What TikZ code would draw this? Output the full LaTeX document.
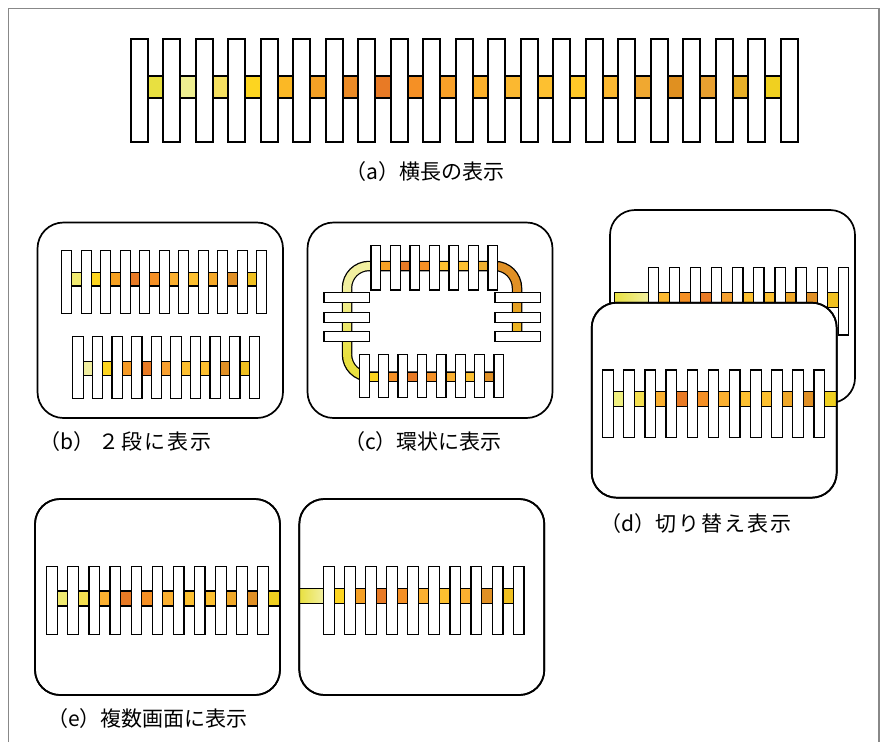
\documentclass[tikz,border=0pt]{standalone}
\usepackage{fontspec}
\newfontfamily\jp{Noto Sans CJK JP}
% bars: x0, pitch, width, n, ytop, ybot
\newcommand\mybars[6]{\foreach \i in {1,...,#4}{\draw[barst] ({#1+(\i-1)*(#2)},#5) rectangle ({#1+(\i-1)*(#2)+#3},#6);}}
% band fill: xa, xb, y1, y2, xfirst, pitch, colours
\newcommand\myband[7]{\begin{scope}\clip (#1,#3) rectangle (#2,#4);
 \foreach \cc [count=\i] in {#7}{\definecolor{tmpc}{HTML}{\cc}\fill[tmpc] ({#5+(\i-1)*(#6)},#3) rectangle ({#5+\i*(#6)+0.3},#4);}
 \end{scope}}
\begin{document}
\begin{tikzpicture}[x=1pt,y=-1pt,
  barst/.style={draw=black,fill=white,line width=1.2pt},
  framest/.style={draw=black,fill=white,line width=1.7pt,rounded corners=25pt},
  bandline/.style={draw=black,line width=1.2pt},
  tube/.style={line width=8pt},
  lab/.style={font=\jp\fontsize{21}{24}\selectfont,inner sep=0pt,anchor=west}]
\definecolor{pale}{HTML}{F2F0A0}
\definecolor{ylw}{HTML}{E8E040}
\definecolor{c1}{HTML}{FDD520}
\definecolor{c2}{HTML}{F5A025}
\definecolor{c3}{HTML}{E87A25}
\definecolor{c4}{HTML}{F59025}
\definecolor{c5}{HTML}{FBB030}
\definecolor{c6}{HTML}{FDC030}
\definecolor{c7}{HTML}{F0B030}
\definecolor{c8}{HTML}{E09025}
\definecolor{c9}{HTML}{F0C020}
\definecolor{framegray}{HTML}{888888}
\useasboundingbox (0,0) rectangle (881,742);
\fill[white] (0,0) rectangle (881,742);
% outer frame
\draw[framegray,line width=1.3pt] (8.5,742) -- (8.5,8.5) -- (879,8.5) -- (879,742);

% ---------- (a) ----------
\begin{scope}[barst/.append style={line width=2pt},bandline/.append style={line width=2pt}]
\myband{139.5}{789}{76}{98}{139.5}{32.48}{E8E040,EEEE90,F5E060,FDD520,FBB825,F4A025,EB8A25,E87A25,F59025,F8A028,FBB02A,FBB830,FDC030,FFC828,FBB830,F0A830,E09020,E8A030,E8B028,F0D020}
\draw[bandline] (139.5,76) rectangle (789,98);
\mybars{131}{32.48}{17}{21}{39}{142}
\end{scope}
\node[lab] (la) at (345,172) {（a）横長の表示};

% ---------- (b) ----------
\draw[framest,rounded corners=26pt] (37.5,222.5) rectangle (283,418);
\myband{66.7}{261.7}{272.7}{286}{66.7}{19.5}{F0EA70,FDD520,F5A020,E87A25,F59025,FBB030,FDC030,F4A828,E09025,F0C020}
\draw[bandline] (66.7,272.7) rectangle (261.7,286);
\mybars{61.7}{19.5}{10}{11}{250.7}{313.3}
\myband{78}{254}{361.7}{375.7}{78}{19.6}{F0EEA0,FDD520,F59A25,E87A25,F8A030,FDBF30,FDC030,E09025,F0C020}
\draw[bandline] (78,361.7) rectangle (254,375.7);
\mybars{72.7}{19.6}{10.5}{10}{336.7}{398.3}
\node[lab] (lb) at (39,442) {（b）\hspace{4pt}２\hspace{2pt}段\hspace{2pt}に\hspace{2pt}表\hspace{2pt}示};

% ---------- (c) ----------
\draw[framest,rounded corners=26pt] (307.5,222.5) rectangle (552.5,418);
\draw[line width=10.5pt,black] (517,340) -- (517,288) .. controls (517,275.85) and (507.15,266) .. (495,266)
  -- (369,266) .. controls (356.85,266) and (347,275.85) .. (347,288)
  -- (347,354.5) .. controls (347,366.65) and (356.85,376.5) .. (369,376.5) -- (498,376.5);
\shade[top color=c8,bottom color=c9] (513,288) rectangle (521,340.5);
\draw[tube,c8] (517,288.3) .. controls (517,275.85) and (507.15,266) .. (494.7,266);
\draw[tube,c8] (495,266) -- (492.85,266);
\draw[tube,c7] (493.1,266) -- (473.35,266);
\draw[tube,c6] (473.6,266) -- (453.85,266);
\draw[tube,c6] (454.1,266) -- (434.35,266);
\draw[tube,c4] (434.6,266) -- (414.85,266);
\draw[tube,c3] (415.1,266) -- (395.35,266);
\draw[tube,c2] (395.6,266) -- (375.85,266);
\draw[tube,pale] (376.1,266) -- (369,266);
\draw[tube,pale] (369.3,266) .. controls (356.85,266) and (347,275.85) .. (347,288.3);
\shade[top color=pale,bottom color=ylw] (343,288) rectangle (351,354.8);
\draw[tube,ylw] (347,354.2) .. controls (347,366.65) and (356.85,376.5) .. (369.3,376.5);
\draw[tube,c1] (369,376.5) -- (383.7,376.5);
\draw[tube,c4] (383.5,376.5) -- (402.9,376.5);
\draw[tube,c3] (402.7,376.5) -- (422.1,376.5);
\draw[tube,c4] (421.9,376.5) -- (441.3,376.5);
\draw[tube,c5] (441.1,376.5) -- (460.5,376.5);
\draw[tube,c6] (460.3,376.5) -- (479.7,376.5);
\draw[tube,c8] (479.5,376.5) -- (498,376.5);
% side bars
\foreach \yy in {292.7,312.3,331.7}{
  \draw[barst] (324,\yy) rectangle (369.3,{\yy+9.8});
  \draw[barst] (495,\yy) rectangle (540.7,{\yy+9.8});}
\mybars{371}{19.5}{9.7}{7}{245.7}{290}
\mybars{359.5}{19.2}{9.6}{8}{354.3}{397.7}
\node[lab] (lc) at (344,442) {（c）環状に表示};

% ---------- (d) ----------
\draw[framest] (610,210) rectangle (855,403);
\myband{614.3}{843}{292.7}{307.3}{632.3}{21.1}{F2EC70,FBB830,F59025,E87A25,F5A030,FDC030,FDC030,F0A828,E09025,F0C020}
\shade[left color=ylw,right color=pale] (614.3,292.7) rectangle (648.3,307.3);
\draw[bandline] (614.3,292.7) rectangle (843,307.3);
\mybars{648.3}{21.1}{10.2}{10}{267.7}{335}
\draw[framest] (591.7,302.7) rectangle (836.7,497.7);
\myband{608}{836.7}{391.7}{406.7}{607.95}{21.13}{F0F080,F5E050,FBB030,E87A25,F59025,FBB030,FDC030,FDC030,F0A828,E09025,F0D020}
\draw[bandline] (608,391.7) rectangle (836.7,406.7);
\mybars{602.7}{21.13}{10.5}{11}{370}{437.3}
\draw[draw=black,line width=1.7pt,rounded corners=25pt] (591.7,302.7) rectangle (836.7,497.7);
\node[lab] (ld) at (600,524) {（d）切\hspace{2pt}り\hspace{2pt}替\hspace{2pt}え\hspace{2pt}表\hspace{2pt}示};

% ---------- (e) ----------
\draw[framest] (35,499) rectangle (280,695);
\myband{52}{280}{591}{606}{52}{21.1}{F0EA70,F5E050,FBB030,E87A25,F59025,FBB030,FDC030,FDC030,F0A828,E09025,F0D020}
\draw[bandline] (52,591) rectangle (280,606);
\mybars{46.7}{21.1}{10.6}{11}{566.7}{634.3}
\draw[draw=black,line width=1.7pt,rounded corners=25pt] (35,499) rectangle (280,695);
\draw[framest] (299.3,499) rectangle (544.3,695);
\myband{299.3}{518.8}{588.3}{603.3}{307.6}{21.1}{F2EC70,FDD520,F5A025,E87A25,F59025,FBB030,FDC030,FBB030,E09025,F0C020}
\shade[left color=ylw,right color=pale] (299.3,588.3) rectangle (323.3,603.3);
\draw[bandline] (299.3,588.3) rectangle (518.8,603.3);
\mybars{323.3}{21.1}{10.8}{10}{566.7}{634.3}
\draw[draw=black,line width=1.7pt,rounded corners=25pt] (299.3,499) rectangle (544.3,695);
\node[lab] (le) at (47,719) {（e）複数画面に表示};
\end{tikzpicture}
\end{document}
